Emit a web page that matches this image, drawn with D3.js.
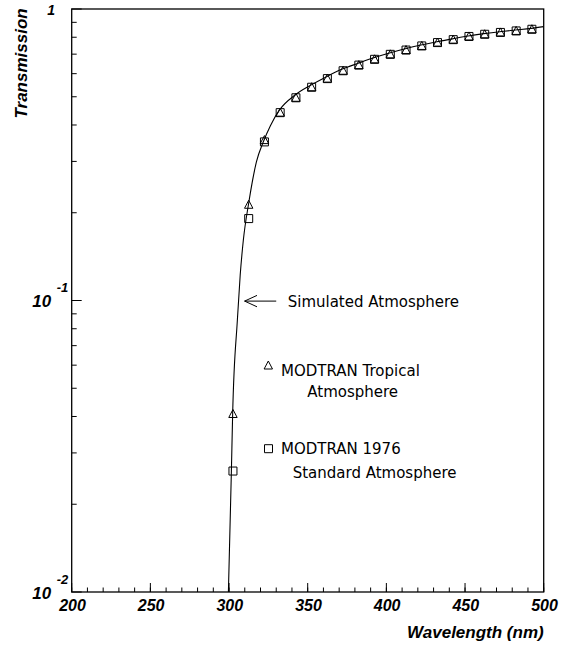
<!DOCTYPE html>
<html><head><meta charset="utf-8">
<script src="https://cdn.jsdelivr.net/npm/d3@7"></script>
<style>body{margin:0;background:#fff} svg{display:block}</style>
</head><body>
<svg id="chart" width="568" height="648"></svg>
<script>
// ---- data ----
const simWavelength = [299.6, 301.5, 302.3, 305.3, 307.1, 309.1, 312.5, 317.4, 322, 326.3, 332, 342, 352, 362, 372, 382, 392, 402, 412, 422, 432, 442, 452, 462, 472, 482, 492, 500];
const simTransmission = [0.0100, 0.0260, 0.0408, 0.0857, 0.1223, 0.1612, 0.2160, 0.2987, 0.3525, 0.398, 0.450, 0.507, 0.548, 0.586, 0.622, 0.651, 0.680, 0.706, 0.730, 0.752, 0.772, 0.790, 0.808, 0.823, 0.836, 0.847, 0.858, 0.870];

const modWavelength = [302.5, 312.5, 322.5, 332.5, 342.5, 352.5, 362.5, 372.5, 382.5, 392.5, 402.5, 412.5, 422.5, 432.5, 442.5, 452.5, 462.5, 472.5, 482.5, 492.5];
const tropical = [0.0408, 0.213, 0.355, 0.441, 0.496, 0.539, 0.577, 0.614, 0.642, 0.672, 0.699, 0.723, 0.747, 0.767, 0.785, 0.805, 0.819, 0.831, 0.841, 0.852];
const standard1976 = [0.0260, 0.191, 0.350, 0.441, 0.496, 0.539, 0.577, 0.614, 0.642, 0.672, 0.699, 0.723, 0.747, 0.767, 0.785, 0.805, 0.819, 0.831, 0.841, 0.852];

const xMajorTicks = [200, 250, 300, 350, 400, 450, 500];
const xMinorTicks = d3.range(200, 501, 10);
const yMajorTicks = [1, 0.1, 0.01];
const yMajorExp = ["0", "-1", "-2"];
const yMinorTicks = [0.02,0.03,0.04,0.05,0.06,0.07,0.08,0.09,0.2,0.3,0.4,0.5,0.6,0.7,0.8,0.9];

// ---- layout ----
const L = 71.7, R = 543.7, T = 9, B = 592;
const svg = d3.select("#chart");
const x = d3.scaleLinear().domain([200, 500]).range([L, R]);
const y = d3.scaleLog().domain([0.01, 1]).range([B, T]);
const numFont = "'Liberation Sans', Arial, Helvetica, sans-serif";
const annFont = "'DejaVu Sans', sans-serif";

svg.append("rect").attr("width", 568).attr("height", 648).attr("fill", "#fff");
svg.append("clipPath").attr("id", "clip").append("rect")
  .attr("x", L).attr("y", T).attr("width", R - L).attr("height", B - T);

// ticks (inward)
const g = svg.append("g").attr("stroke", "#000").attr("stroke-width", 1);
g.selectAll(".xmin").data(xMinorTicks).join("line")
  .attr("x1", d => x(d)).attr("x2", d => x(d)).attr("y1", B).attr("y2", B - 4.5);
g.selectAll(".xmaj").data(xMajorTicks).join("line")
  .attr("x1", d => x(d)).attr("x2", d => x(d)).attr("y1", B).attr("y2", B - 9);
g.selectAll(".ymin").data(yMinorTicks).join("line")
  .attr("x1", L).attr("x2", L + 5).attr("y1", d => y(d)).attr("y2", d => y(d));
g.selectAll(".ymaj").data(yMajorTicks).join("line")
  .attr("x1", L).attr("x2", L + 10).attr("y1", d => y(d)).attr("y2", d => y(d));

// frame
svg.append("rect").attr("x", L).attr("y", T).attr("width", R - L).attr("height", B - T)
  .attr("fill", "none").attr("stroke", "#000").attr("stroke-width", 1.3);

// x tick labels
svg.append("g").selectAll("text").data(xMajorTicks).join("text")
  .attr("x", d => x(d) + 0.8).attr("y", B + 18.7)
  .attr("text-anchor", "middle")
  .attr("font-family", numFont).attr("font-size", 16)
  .attr("font-weight", "bold").attr("font-style", "italic")
  .text(d => d);

// y tick labels
yMajorTicks.forEach((v, i) => {
  if (yMajorExp[i] === "0") {
    svg.append("text").attr("x", L - 16.7).attr("y", y(v) + 6.3)
      .attr("text-anchor", "end").attr("font-family", numFont).attr("font-size", 14)
      .attr("font-weight", "bold").attr("font-style", "italic").text("1");
  } else {
    svg.append("text").attr("x", L - 20.5).attr("y", y(v) + 6.8)
      .attr("text-anchor", "end").attr("font-family", numFont).attr("font-size", 17)
      .attr("font-weight", "bold").attr("font-style", "italic").text("10");
    svg.append("text").attr("x", L - 15).attr("y", y(v) - 8.5)
      .attr("text-anchor", "start").attr("font-family", numFont).attr("font-size", 13)
      .attr("font-weight", "bold").attr("font-style", "italic").text(yMajorExp[i]);
  }
});

// axis titles
svg.append("text").attr("x", R).attr("y", 638).attr("text-anchor", "end")
  .attr("font-family", numFont).attr("font-size", 17)
  .attr("font-weight", "bold").attr("font-style", "italic").text("Wavelength (nm)");
svg.append("text").attr("transform", "translate(26.7,8.3) rotate(-90)")
  .attr("text-anchor", "end")
  .attr("font-family", numFont).attr("font-size", 17)
  .attr("font-weight", "bold").attr("font-style", "italic").text("Transmission");

// simulated curve
const simData = simWavelength.map((w, i) => [w, simTransmission[i]]);
svg.append("path").datum(simData)
  .attr("clip-path", "url(#clip)")
  .attr("fill", "none").attr("stroke", "#000").attr("stroke-width", 1.1)
  .attr("d", d3.line().x(d => x(d[0])).y(d => y(d[1])).curve(d3.curveMonotoneX));

// markers
const triPath = "M0,-4.5L4.2,3.5L-4.2,3.5Z";
const sqPath = "M-4,-4H4V4H-4Z";
svg.append("g").selectAll("path").data(modWavelength.map((w, i) => [w, standard1976[i]])).join("path")
  .attr("transform", d => `translate(${x(d[0])},${y(d[1])})`)
  .attr("d", sqPath).attr("fill", "none").attr("stroke", "#000").attr("stroke-width", 1);
svg.append("g").selectAll("path").data(modWavelength.map((w, i) => [w, tropical[i]])).join("path")
  .attr("transform", d => `translate(${x(d[0])},${y(d[1])})`)
  .attr("d", triPath).attr("fill", "none").attr("stroke", "#000").attr("stroke-width", 1);

// annotation: simulated atmosphere arrow
const ay = y(0.1) + 0.6;
const ax0 = x(309.9), ax1 = x(330);
const ann = svg.append("g").attr("stroke", "#000").attr("stroke-width", 1).attr("fill", "none");
ann.append("line").attr("x1", ax1).attr("y1", ay).attr("x2", ax0).attr("y2", ay);
ann.append("polyline").attr("points", `${ax0 + 12.4},${ay - 5.7} ${ax0},${ay} ${ax0 + 12.4},${ay + 5.7}`);
svg.append("text").attr("x", 287.7).attr("y", ay + 6).attr("font-family", annFont)
  .attr("font-size", 15).text("Simulated Atmosphere");

// legend
svg.append("path").attr("transform", "translate(268.3,365.5)").attr("d", triPath)
  .attr("fill", "none").attr("stroke", "#000").attr("stroke-width", 1);
svg.append("text").attr("x", 281).attr("y", 375.7).attr("font-family", annFont)
  .attr("font-size", 15).text("MODTRAN Tropical");
svg.append("text").attr("x", 307.3).attr("y", 396.7).attr("font-family", annFont)
  .attr("font-size", 15).text("Atmosphere");
svg.append("path").attr("transform", "translate(268.5,448.7)").attr("d", sqPath)
  .attr("fill", "none").attr("stroke", "#000").attr("stroke-width", 1);
svg.append("text").attr("x", 281).attr("y", 454.3).attr("font-family", annFont)
  .attr("font-size", 15).text("MODTRAN 1976");
svg.append("text").attr("x", 292.7).attr("y", 477.7).attr("font-family", annFont)
  .attr("font-size", 15).text("Standard Atmosphere");
</script>
</body></html>
